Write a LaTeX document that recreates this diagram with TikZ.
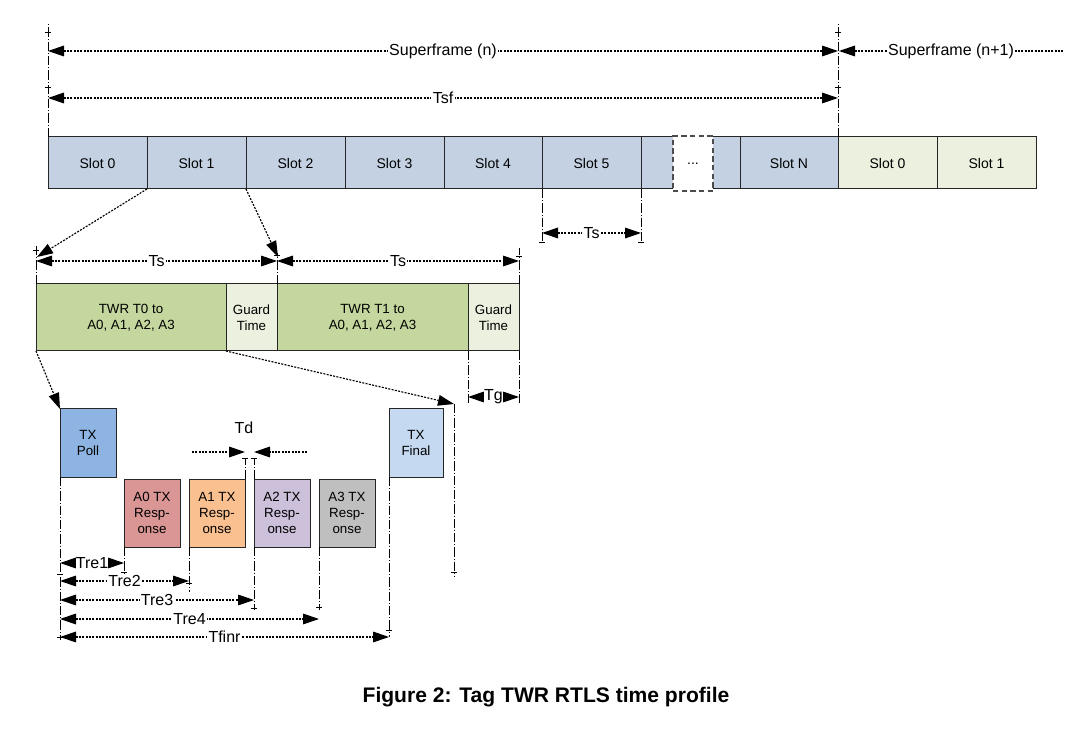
\documentclass[tikz,border=0pt]{standalone}
\usepackage{fontspec}
\setmainfont{Liberation Sans}
\usetikzlibrary{arrows.meta}
\definecolor{slotblue}{RGB}{195,209,227}
\definecolor{slotgreen}{RGB}{235,241,222}
\definecolor{twrgreen}{RGB}{196,215,158}
\definecolor{guardgreen}{RGB}{235,241,222}
\definecolor{pollblue}{RGB}{141,180,226}
\definecolor{finalblue}{RGB}{197,217,241}
\definecolor{aared}{RGB}{218,150,148}
\definecolor{aborange}{RGB}{250,192,144}
\definecolor{acviolet}{RGB}{204,192,218}
\definecolor{adgray}{RGB}{191,191,191}
\newcommand\bx[7]{\node[#6, minimum width={(#4-#2)*0.75pt}, minimum height={(#5-#3)*0.75pt}] (#1) at ({(#2+#4)/2},{(#3+#5)/2}) {#7};}
\begin{document}
\begin{tikzpicture}[x=0.75pt,y=-0.75pt,
 box/.style={draw=black!85, line width=0.75pt, inner sep=0pt, outer sep=0pt, align=center, font=\fontsize{10}{12}\selectfont},
 slotbox/.style={box, fill=slotblue, font=\fontsize{10.5}{12}\selectfont},
 dots/.style={line width=0.85pt, dash pattern=on 1.5pt off 1pt},
 dim/.style={dots, {Triangle[length=12pt,width=8pt]}-{Triangle[length=12pt,width=8pt]}},
 halfdim/.style={dots, -{Triangle[length=12pt,width=8pt]}},
 ext/.style={line width=0.75pt, dash pattern=on 7pt off 1.5pt on 0.75pt off 1.5pt},
 lbl/.style={fill=white, inner sep=1pt, font=\fontsize{12}{14}\selectfont},
 tickmark/.style={line width=0.6pt},
 zoomline/.style={dots, -{Triangle[length=12pt,width=8pt]}},
]
\useasboundingbox (0,0) rectangle (1079,734);

% ---------- top slot row ----------
\bx{s0}{48}{137}{147}{189}{slotbox}{Slot 0}
\bx{s1}{147}{137}{246}{189}{slotbox}{Slot 1}
\bx{s2}{246}{137}{345}{189}{slotbox}{Slot 2}
\bx{s3}{345}{137}{444}{189}{slotbox}{Slot 3}
\bx{s4}{444}{137}{542}{189}{slotbox}{Slot 4}
\bx{s5}{542}{137}{641}{189}{slotbox}{Slot 5}
\bx{sf}{641}{137}{740}{189}{slotbox}{}
\bx{sN}{740}{137}{838}{189}{slotbox}{Slot N}
\bx{n0}{838}{137}{937}{189}{slotbox,fill=slotgreen}{Slot 0}
\bx{n1}{937}{137}{1036}{189}{slotbox,fill=slotgreen}{Slot 1}
\bx{sdots}{673}{136}{713}{191}{box,draw=black!70,fill=white,line width=1.1pt,dash pattern=on 4pt off 2.5pt,font=\fontsize{10.5}{12}\selectfont}{...}

% ---------- superframe dimensions ----------
\coordinate (eLtop) at (48,23);
\coordinate (eRtop) at (838,23);
\draw[ext] (s0.north west) -- (eLtop);
\draw[ext] (sN.north east) -- (eRtop);
\foreach \xx in {48,838} {
  \draw[tickmark] (\xx-3,32) -- (\xx+3,32);
  \draw[tickmark] (\xx-3,87) -- (\xx+3,87);
}
\coordinate (sfL) at (48,51);
\coordinate (sfR) at (838,51);
\draw[dim] (sfL) -- node[lbl]{Superframe (n)} (sfR);
\coordinate (sf2L) at (839,51);
\coordinate (sf2R) at (1063,51);
\draw[dots, {Triangle[length=12pt,width=8pt]}-] (sf2L) -- node[lbl, pos=0.5]{Superframe (n+1)} (sf2R);
\coordinate (tsfL) at (48,98);
\coordinate (tsfR) at (838,98);
\draw[dim] (tsfL) -- node[lbl]{Tsf} (tsfR);

% ---------- Ts under slot 5 ----------
\coordinate (e5a) at (542,243);
\coordinate (e5b) at (641,243);
\draw[ext] (s5.south west) -- (e5a);
\draw[ext] (s5.south east) -- (e5b);
\draw[tickmark] (539,242) -- (545,242);
\draw[tickmark] (638,242) -- (644,242);
\coordinate (ts5L) at (542,233);
\coordinate (ts5R) at (641,233);
\draw[dim] (ts5L) -- node[lbl]{Ts} (ts5R);

% ---------- slot expansion row ----------
\bx{t0}{36}{284}{226}{351}{box,fill=twrgreen}{TWR T0 to\\A0, A1, A2, A3}
\bx{g0}{226}{284}{277}{351}{box,fill=guardgreen}{Guard\\Time}
\bx{t1}{277}{284}{468}{351}{box,fill=twrgreen}{TWR T1 to\\A0, A1, A2, A3}
\bx{g1}{468}{284}{519}{351}{box,fill=guardgreen}{Guard\\Time}

\coordinate (eT0) at (36,245);
\coordinate (eT1) at (277,253);
\coordinate (eT2) at (519,248);
\draw[ext] (t0.north west) -- (eT0);
\draw[ext] (t1.north west) -- (eT1);
\draw[ext] (g1.north east) -- (eT2);
\draw[tickmark] (33,250) -- (39,250);
\draw[tickmark] (274,255) -- (280,255);
\draw[tickmark] (516,256) -- (522,256);
\coordinate (tsA) at (36,261);
\coordinate (tsB) at (277,261);
\coordinate (tsC) at (519,261);
\draw[dim] (tsA) -- node[lbl]{Ts} (tsB);
\draw[dim] (tsB) -- node[lbl]{Ts} (tsC);

\coordinate (zA) at (37,257);
\coordinate (zB) at (278,257);
\draw[zoomline] (s1.south west) -- (zA);
\draw[zoomline] (s2.south west) -- (zB);

% Tg
\coordinate (eg1) at (468,405);
\coordinate (eg2) at (519,405);
\draw[ext] (g1.south west) -- (eg1);
\draw[ext] (g1.south east) -- (eg2);
\coordinate (tgL) at (468,397);
\coordinate (tgR) at (519,397);
\draw[dim] (tgL) -- node[lbl, inner sep=0pt]{Tg} (tgR);

% ---------- TX boxes ----------
\bx{poll}{60}{409}{116}{477}{box,fill=pollblue}{TX\\Poll}
\bx{final}{389}{409}{443}{477}{box,fill=finalblue}{TX\\Final}
\bx{r0}{124}{479}{180}{547}{box,fill=aared}{A0 TX\\Resp-\\onse}
\bx{r1}{189}{479}{245}{547}{box,fill=aborange}{A1 TX\\Resp-\\onse}
\bx{r2}{254}{479}{310}{547}{box,fill=acviolet}{A2 TX\\Resp-\\onse}
\bx{r3}{319}{479}{375}{547}{box,fill=adgray}{A3 TX\\Resp-\\onse}

\coordinate (zC) at (454,404);
\draw[zoomline] (t0.south west) -- (poll.north west);
\draw[zoomline] (g0.south west) -- (zC);
\coordinate (eC) at (454,577);
\draw[ext] (zC) -- (eC);
\draw[tickmark] (451,572) -- (457,572);

% Td
\coordinate (td1) at (245,458);
\coordinate (td2) at (254,458);
\draw[ext] (r1.north east) -- (td1);
\draw[ext] (r2.north west) -- (td2);
\draw[tickmark] (242,458) -- (248,458);
\draw[tickmark] (251,458) -- (257,458);
\coordinate (tdLs) at (192,452);
\coordinate (tdLe) at (245,452);
\coordinate (tdRs) at (307,452);
\coordinate (tdRe) at (254,452);
\draw[halfdim] (tdLs) -- (tdLe);
\draw[halfdim] (tdRs) -- (tdRe);
\node[font=\fontsize{12}{14}\selectfont] (tdlbl) at (244,428) {Td};

% extension lines below
\coordinate (ep) at (60,640);
\coordinate (e0) at (124,574);
\coordinate (e1) at (189,592);
\coordinate (e2) at (254,610);
\coordinate (e3) at (319,610);
\coordinate (ef) at (389,637);
\draw[ext] (poll.south west) -- (ep);
\draw[ext] (r0.south west) -- (e0);
\draw[ext] (r1.south west) -- (e1);
\draw[ext] (r2.south west) -- (e2);
\draw[ext] (r3.south west) -- (e3);
\draw[ext] (final.south west) -- (ef);
\draw[tickmark] (57,574) -- (63,574);
\draw[tickmark] (57,637) -- (63,637);
\draw[tickmark] (121,572) -- (127,572);
\draw[tickmark] (186,583) -- (192,583);
\draw[tickmark] (251,608) -- (257,608);
\draw[tickmark] (316,607) -- (322,607);
\draw[tickmark] (386,630) -- (392,630);

% Tre dimensions
\coordinate (tr1a) at (60,563);  \coordinate (tr1b) at (124,563);
\coordinate (tr2a) at (60,581);  \coordinate (tr2b) at (189,581);
\coordinate (tr3a) at (60,600);  \coordinate (tr3b) at (254,600);
\coordinate (tr4a) at (60,619);  \coordinate (tr4b) at (319,619);
\coordinate (tfa) at (60,637);   \coordinate (tfb) at (389,637);
\draw[dim] (tr1a) -- node[lbl, inner sep=0pt]{Tre1} (tr1b);
\draw[dim] (tr2a) -- node[lbl]{Tre2} (tr2b);
\draw[dim] (tr3a) -- node[lbl]{Tre3} (tr3b);
\draw[dim] (tr4a) -- node[lbl]{Tre4} (tr4b);
\draw[dim] (tfa) -- node[lbl]{Tfinr} (tfb);

% caption
\node[font=\bfseries\fontsize{15.8}{18}\selectfont] (cap) at (546,697) {Figure 2: Tag TWR RTLS time profile};
\end{tikzpicture}
\end{document}
